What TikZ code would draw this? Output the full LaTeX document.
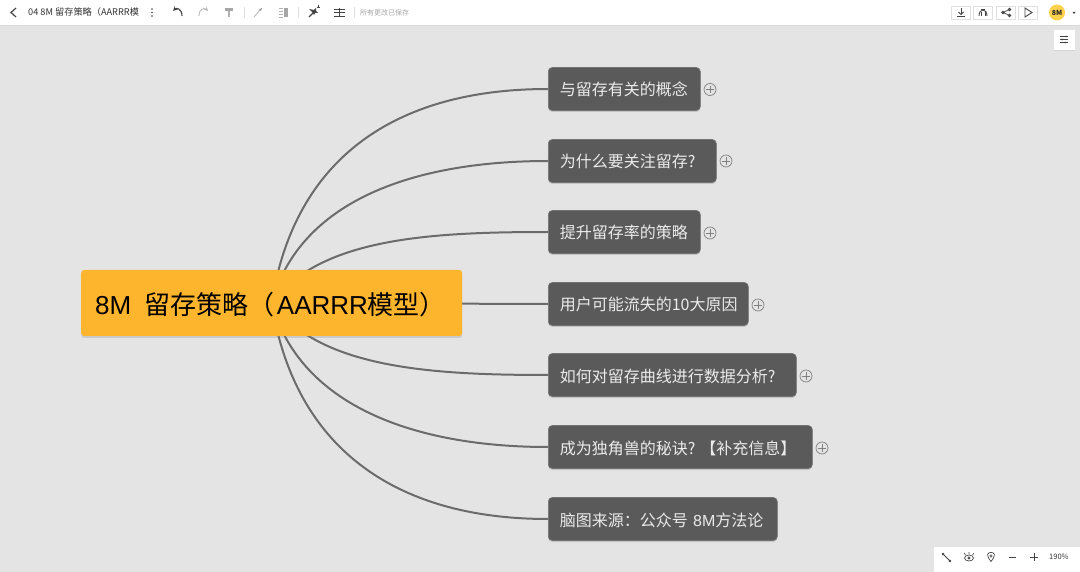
\documentclass[tikz,border=0pt]{standalone}
\usepackage{fontspec}
\setmainfont{Noto Sans CJK SC}
\newfontfamily\latinfont{Liberation Sans}
\usetikzlibrary{backgrounds,shadows}
\definecolor{canvasgray}{HTML}{E4E4E4}
\definecolor{rootyellow}{HTML}{FDB52E}
\definecolor{branchgray}{HTML}{5A5A5A}
\definecolor{linkgray}{HTML}{6B6B6B}
\definecolor{icongray}{HTML}{444444}
\definecolor{avataryellow}{HTML}{FFD24D}
\tikzset{
  rootbox/.style={rectangle, rounded corners=3pt, fill=rootyellow, text=black, anchor=west,
    inner xsep=14pt, inner ysep=0pt, text width=353pt, minimum height=66pt, align=left,
    text height=26pt, text depth=2pt,
    font=\fontsize{26}{30}\selectfont, drop shadow={shadow xshift=0pt, shadow yshift=-2pt, opacity=0.25}},
  branchbox/.style={rectangle, rounded corners=4pt, fill=branchgray, draw=gray!90!black, line width=0.6pt,
    text=white!92!black, anchor=west, minimum height=43pt, inner xsep=11.5pt, inner ysep=0pt,
    text width=#1pt-23pt, align=left, text height=16pt, text depth=2pt,
    font=\fontsize{16}{20}\selectfont, drop shadow={shadow xshift=0pt, shadow yshift=-1.5pt, opacity=0.3}},
  plusmark/.style={circle, draw=gray, line width=0.7pt, minimum size=12pt, inner sep=0pt,
    path picture={\draw[gray, line width=0.7pt]
      ([yshift=3.8pt]path picture bounding box.center) -- ([yshift=-3.8pt]path picture bounding box.center)
      ([xshift=-3.8pt]path picture bounding box.center) -- ([xshift=3.8pt]path picture bounding box.center);}},
  link/.style={draw=linkgray, line width=2pt},
  barpanel/.style={rectangle, fill=white, anchor=north west, inner sep=0pt},
  toolbtn/.style={rectangle, draw=black!12, fill=white, minimum width=19pt, minimum height=13pt, inner sep=0pt},
  icon/.style={draw=icongray, line width=0.9pt},
  iconfaint/.style={draw=black!30, line width=0.8pt},
  bartext/.style={font=\fontsize{9.2}{11}\selectfont, text=black!80, inner sep=0pt, anchor=west},
}
\begin{document}
\begin{tikzpicture}[x=1pt, y=-1pt]
    \useasboundingbox (0,0) rectangle (1080,572);

    % mind map
    \node[rootbox] (root) at (81,303) {{\latinfont 8M}\hspace{5pt} 留存策略（\hspace{2pt}{\latinfont AARRR}模型）};
    \node[branchbox=152] (concept) at (548,89) {与留存有关的概念};
    \node[branchbox=168] (why) at (548,161) {为什么要关注留存?};
    \node[branchbox=152] (raise) at (548,232) {提升留存率的策略};
    \node[branchbox=200] (reasons) at (548,304) {用户可能流失的10大原因};
    \node[branchbox=248] (curve) at (548,375) {如何对留存曲线进行数据分析?};
    \node[branchbox=264] (secret) at (548,447) {成为独角兽的秘诀?\hspace{5pt}【补充信息】};
    \node[branchbox=229] (source) at (548,519) {脑图来源：公众号 {\latinfont 8M}方法论};

    \node[plusmark] (plusconcept) at (710,89.5) {};
    \node[plusmark] (pluswhy) at (726,161) {};
    \node[plusmark] (plusraise) at (710,233) {};
    \node[plusmark] (plusreasons) at (758,305) {};
    \node[plusmark] (pluscurve) at (806,376) {};
    \node[plusmark] (plussecret) at (822,448) {};

    \begin{scope}[on background layer]
        \fill[canvasgray] (0,0) rectangle (1080,572);
        \draw[link] (root.center) .. controls (294,160) and (393,89) .. (concept.west);
        \draw[link] (root.center) .. controls (300,200) and (415,161) .. (why.west);
        \draw[link] (root.center) .. controls (320,238) and (430,232) .. (raise.west);
        \draw[link] (root.center) -- (reasons.west);
        \draw[link] (root.center) .. controls (320,368) and (430,375) .. (curve.west);
        \draw[link] (root.center) .. controls (300,406) and (415,447) .. (secret.west);
        \draw[link] (root.center) .. controls (294,446) and (393,519) .. (source.west);
    \end{scope}

    % top bar
    \node[barpanel, minimum width=1080pt, minimum height=25pt, drop shadow={shadow xshift=0pt, shadow yshift=-0.5pt, opacity=0.1}] (topbar) at (0,0) {};
    \draw[icon, line width=1.2pt] (16,8) -- (11,12.5) -- (16,17);
    \node[bartext] (doctitle) at (28,12.5) {04 8M 留存策略（AARRR模};
    \fill[icongray] (152,9) circle (0.9pt) (152,12.5) circle (0.9pt) (152,16) circle (0.9pt);
    \draw[icon, line width=1.1pt, -stealth] (182,16) .. controls (182,8) and (176,8) .. (173,11);
    \draw[iconfaint, -stealth] (199,16) .. controls (199,8) and (205,8) .. (208,11);
    \fill[black!35] (225,8) rectangle (233,11.5);
    \draw[iconfaint, line width=1.3pt] (229,11) -- (229,17);
    \draw[black!12, line width=0.5pt] (244,7) -- (244,18);
    \draw[iconfaint] (254,17) -- (260,10);
    \fill[black!40] (259,9.5) -- (262,8) -- (261,11) -- cycle;
    \draw[iconfaint, line width=0.6pt] (279,8) -- (283,8) (279,11) -- (283,11) (279,14) -- (283,14) (279,17) -- (283,17);
    \fill[black!35] (284,8) rectangle (288,17);
    \draw[black!12, line width=0.5pt] (298,7) -- (298,18);
    \draw[icon, line width=1.2pt] (309,17) -- (314,12);
    \fill[icongray] (309,9) -- (314,10) -- (316,8) -- (316,11) -- (318,13) -- (315,13) -- (314,15) -- (312.5,12.5) -- cycle;
    \draw[icon, line width=0.7pt] (317,7) -- (320,7) (318.5,5.5) -- (318.5,8.5);
    \draw[icon, line width=0.8pt] (334,9) -- (345,9) (334,12.5) -- (345,12.5) (334,16) -- (345,16) (339.5,8) -- (339.5,17);
    \draw[black!12, line width=0.5pt] (354,7) -- (354,18);
    \node[bartext, font=\fontsize{7}{9}\selectfont, text=black!35] (savednote) at (360,12.5) {所有更改已保存};

    \node[toolbtn] (btnsave) at (961,12.5) {};
    \draw[icon] (957,16) -- (965,16) (961,8.5) -- (961,14);
    \draw[icon] (958.5,12) -- (961,14.5) -- (963.5,12);
    \node[toolbtn] (btnshirt) at (983,12.5) {};
    \draw[icon] (979,16) .. controls (979,8) and (987,8) .. (987,16);
    \draw[icon] (981,9) -- (985,9) (981,16) -- (981,12) (985,16) -- (985,12);
    \node[toolbtn] (btnshare) at (1006,12.5) {};
    \draw[icon] (1003,12.5) circle (1.3pt) (1009.5,9.5) circle (1.3pt) (1009.5,15.5) circle (1.3pt);
    \draw[icon, line width=0.7pt] (1009.5,9.5) -- (1003,12.5) -- (1009.5,15.5);
    \node[toolbtn] (btnplay) at (1028,12.5) {};
    \draw[icon] (1025,8) -- (1032,12.5) -- (1025,17) -- cycle;
    \node[circle, fill=avataryellow, minimum size=16pt, inner sep=0pt, font=\fontsize{7}{8}\selectfont\bfseries, text=black!85] (avatar) at (1057,12.5) {8M};
    \fill[icongray] (1072.5,12) -- (1075.5,12) -- (1074,14) -- cycle;

    % side button
    \node[barpanel, minimum width=21pt, minimum height=20pt, drop shadow={shadow xshift=0pt, shadow yshift=-1pt, opacity=0.15}] (sidebtn) at (1054,29.5) {};
    \draw[icon, line width=0.7pt] (1060,36.5) -- (1068,36.5) (1060,39.5) -- (1068,39.5) (1060,42.5) -- (1068,42.5);
    \fill[icongray] (1066,36.5) circle (1pt) (1062,39.5) circle (1pt) (1065,42.5) circle (1pt);

    % bottom panel
    \node[barpanel, minimum width=146pt, minimum height=25pt, drop shadow={shadow xshift=0pt, shadow yshift=-1pt, opacity=0.15}] (zoompanel) at (934,547) {};
    \draw[icon, line width=0.8pt] (943,554) -- (950,561);
    \fill[icongray] (943,554) circle (1.3pt) (950,561) circle (1.3pt);
    \draw[icon, line width=0.7pt] (969,558) ellipse (4.5pt and 3pt) (969,558) circle (1.2pt);
    \draw[icon, line width=0.6pt] (964,553) -- (965.5,555) (969,552) -- (969,554) (974,553) -- (972.5,555);
    \draw[icon, line width=0.7pt] (991,561.5) .. controls (985,554) and (988,552.5) .. (991,552.5) .. controls (994,552.5) and (997,554) .. (991,561.5) -- cycle;
    \draw[icon, line width=0.6pt] (991,556) circle (1.2pt);
    \draw[icon] (1009,557) -- (1016,557);
    \draw[icon] (1030,557) -- (1038,557) (1034,553) -- (1034,561);
    \node[bartext, font=\fontsize{7.5}{9}\selectfont] (zoomlevel) at (1049,557) {190\%};
\end{tikzpicture}
\end{document}
